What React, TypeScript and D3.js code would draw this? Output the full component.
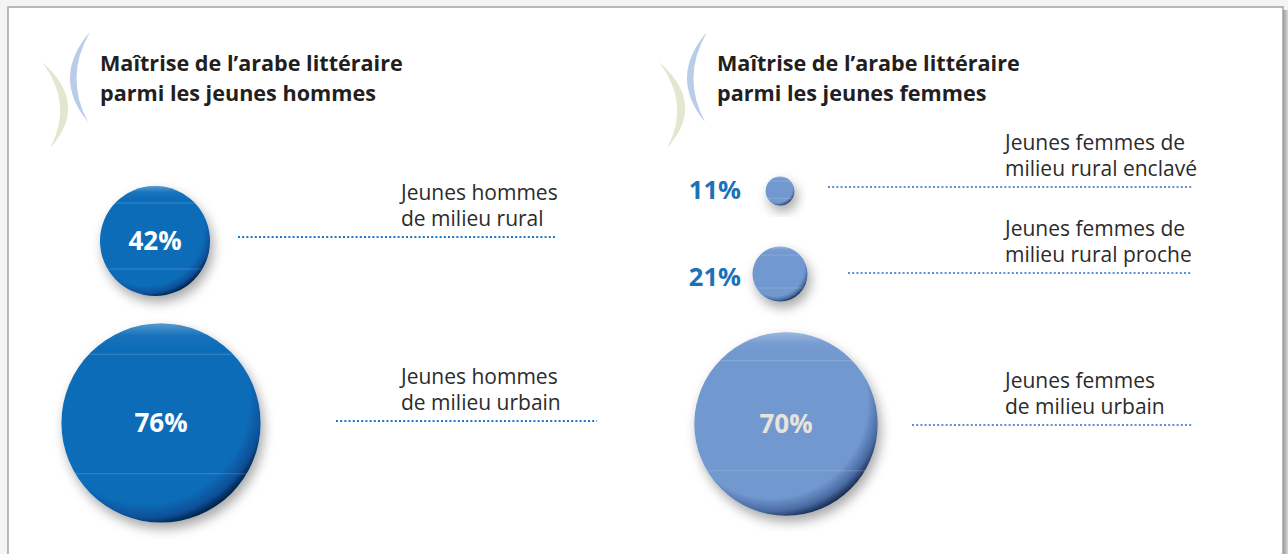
import React from "react";
import * as d3 from "d3";

// ---- data ----
const maleTitle = ["Maîtrise de l’arabe littéraire", "parmi les jeunes hommes"];
const femaleTitle = ["Maîtrise de l’arabe littéraire", "parmi les jeunes femmes"];
const maleValues = [42, 76];
const femaleValues = [11, 21, 70];
const maleLabels = [
  ["Jeunes hommes", "de milieu rural"],
  ["Jeunes hommes", "de milieu urbain"],
];
const femaleLabels = [
  ["Jeunes femmes de", "milieu rural enclavé"],
  ["Jeunes femmes de", "milieu rural proche"],
  ["Jeunes femmes", "de milieu urbain"],
];

// ---- layout ----
const W = 1288;
const H = 554;
const FONT = "'Open Sans', 'DejaVu Sans', sans-serif";

const rScale = d3.scaleLinear().domain([0, 100]).range([0, 131]);

const maleLayout = [
  { cx: 155, cy: 241, lineY: 237, lineX0: 238, lineX1: 555, labelX: 401 },
  { cx: 161, cy: 423, lineY: 421, lineX0: 336, lineX1: 597, labelX: 401 },
];
const femaleLayout = [
  { cx: 780, cy: 191, lineY: 187, lineX0: 828, lineX1: 1193, labelX: 1005, valueY: 199 },
  { cx: 780, cy: 274, lineY: 273, lineX0: 848, lineX1: 1191, labelX: 1005, valueY: 286 },
  { cx: 786, cy: 424, lineY: 425, lineX0: 912, lineX1: 1192, labelX: 1005, valueY: 433 },
];
const outsideValueRight = 741;

function Crescents({ dx }: { dx: number }) {
  const blue = `M${90 + dx},32 Q${51 + dx},77 ${88 + dx},122 Q${64 + dx},77 ${90 + dx},32 Z`;
  const green = `M${42 + dx},62 Q${90 + dx},104 ${50 + dx},148 Q${74 + dx},104 ${42 + dx},62 Z`;
  return (
    <g>
      <path d={green} fill="#e2e7cf" />
      <path d={blue} fill="#b9cde9" />
    </g>
  );
}

function Title({ x, lines }: { x: number; lines: string[] }) {
  return (
    <g>
      {lines.map((t, i) => (
        <text
          key={i}
          x={x}
          y={71 + i * 29.5}
          fontFamily={FONT}
          fontWeight={700}
          fontSize={21.6}
          fill="#231f20"
        >
          {t}
        </text>
      ))}
    </g>
  );
}

function Bubble({
  v,
  cx,
  cy,
  grad,
  textFill,
  showInside,
}: {
  v: number;
  cx: number;
  cy: number;
  grad: string;
  textFill: string;
  showInside: boolean;
}) {
  const r = rScale(v);
  const id = `clip-${cx}-${cy}`;
  return (
    <g>
      <clipPath id={id}>
        <circle cx={cx} cy={cy} r={r} />
      </clipPath>
      <circle cx={cx} cy={cy} r={r} fill={`url(#${grad})`} filter="url(#shadow)" />
      <circle cx={cx} cy={cy} r={r} fill="url(#hl)" />
      <g clipPath={`url(#${id})`}>
        <line x1={cx - r} x2={cx + r} y1={cy - 0.69 * r} y2={cy - 0.69 * r} stroke="#ffffff" strokeOpacity={0.18} strokeWidth={1} />
        <line x1={cx - r} x2={cx + r} y1={cy + 0.51 * r} y2={cy + 0.51 * r} stroke="#ffffff" strokeOpacity={0.18} strokeWidth={1} />
      </g>
      {showInside && (
        <text
          x={cx}
          y={cy + 9}
          textAnchor="middle"
          fontFamily={FONT}
          fontWeight={700}
          fontSize={26}
          fill={textFill}
        >
          {v}%
        </text>
      )}
    </g>
  );
}

function Labels({ lines, x, lineY }: { lines: string[]; x: number; lineY: number }) {
  return (
    <g>
      {lines.map((t, i) => (
        <text
          key={i}
          x={x}
          y={lineY - 11 - (lines.length - 1 - i) * 26}
          fontFamily={FONT}
          fontSize={19}
          fill="#2b2b2b"
          textLength={undefined}
          style={{ fontSize: 21 }}
        >
          {t}
        </text>
      ))}
    </g>
  );
}

export default function App() {
  return (
    <svg
      width={W}
      height={H}
      style={{ position: "absolute", left: 0, top: 0, display: "block" }}
    >
      <defs>
        <filter id="shadow" x="-30%" y="-30%" width="170%" height="170%">
          <feDropShadow dx={3} dy={6} stdDeviation={6} floodColor="#000" floodOpacity={0.35} />
        </filter>
        <radialGradient id="gMale" cx="0.42" cy="0.38" r="0.64">
          <stop offset="0%" stopColor="#0a6cb8" />
          <stop offset="82%" stopColor="#0a6cb8" />
          <stop offset="93%" stopColor="#08509a" />
          <stop offset="100%" stopColor="#04244a" />
        </radialGradient>
        <radialGradient id="gFemale" cx="0.42" cy="0.38" r="0.64">
          <stop offset="0%" stopColor="#7198cf" />
          <stop offset="82%" stopColor="#7198cf" />
          <stop offset="93%" stopColor="#4a6ba3" />
          <stop offset="100%" stopColor="#1a2e54" />
        </radialGradient>
        <linearGradient id="hl" x1="0" y1="0" x2="0" y2="1">
          <stop offset="0%" stopColor="#ffffff" stopOpacity={0.3} />
          <stop offset="6%" stopColor="#ffffff" stopOpacity={0.05} />
          <stop offset="12%" stopColor="#ffffff" stopOpacity={0} />
          <stop offset="100%" stopColor="#ffffff" stopOpacity={0} />
        </linearGradient>
        <linearGradient id="frameShadow" x1="0" y1="0" x2="1" y2="0">
          <stop offset="0%" stopColor="#9a9a9a" />
          <stop offset="100%" stopColor="#d8d8d8" />
        </linearGradient>
      </defs>

      {/* page and frame */}
      <rect x={0} y={0} width={W} height={H} fill="#f4f4f4" />
      <rect x={1283} y={10} width={5} height={H} fill="url(#frameShadow)" />
      <rect x={8} y={7} width={1275} height={H + 10} fill="#ffffff" stroke="#a3a3a3" strokeWidth={1.5} />

      <Crescents dx={0} />
      <Crescents dx={617} />
      <Title x={100} lines={maleTitle} />
      <Title x={717} lines={femaleTitle} />

      {/* dotted leader lines */}
      {maleLayout.map((l, i) => (
        <line key={`ml${i}`} x1={l.lineX0} x2={l.lineX1} y1={l.lineY} y2={l.lineY} stroke="#1c78c8" strokeWidth={2} strokeDasharray="2 2.2" />
      ))}
      {femaleLayout.map((l, i) => (
        <line key={`fl${i}`} x1={l.lineX0} x2={l.lineX1} y1={l.lineY} y2={l.lineY} stroke="#5b8ed5" strokeWidth={2} strokeDasharray="2 2.2" />
      ))}

      {/* bubbles */}
      {maleValues.map((v, i) => (
        <Bubble key={`mb${i}`} v={v} cx={maleLayout[i].cx} cy={maleLayout[i].cy} grad="gMale" textFill="#ffffff" showInside={true} />
      ))}
      {femaleValues.map((v, i) => (
        <Bubble key={`fb${i}`} v={v} cx={femaleLayout[i].cx} cy={femaleLayout[i].cy} grad="gFemale" textFill="#e9e4da" showInside={rScale(v) > 40} />
      ))}
      {femaleValues.map((v, i) =>
        rScale(v) > 40 ? null : (
          <text
            key={`fo${i}`}
            x={outsideValueRight}
            y={femaleLayout[i].valueY}
            textAnchor="end"
            fontFamily={FONT}
            fontWeight={700}
            fontSize={25.5}
            fill="#1a73b9"
          >
            {v}%
          </text>
        )
      )}

      {/* labels */}
      {maleLabels.map((lines, i) => (
        <Labels key={`mlab${i}`} lines={lines} x={maleLayout[i].labelX} lineY={maleLayout[i].lineY} />
      ))}
      {femaleLabels.map((lines, i) => (
        <Labels key={`flab${i}`} lines={lines} x={femaleLayout[i].labelX} lineY={femaleLayout[i].lineY} />
      ))}
    </svg>
  );
}
